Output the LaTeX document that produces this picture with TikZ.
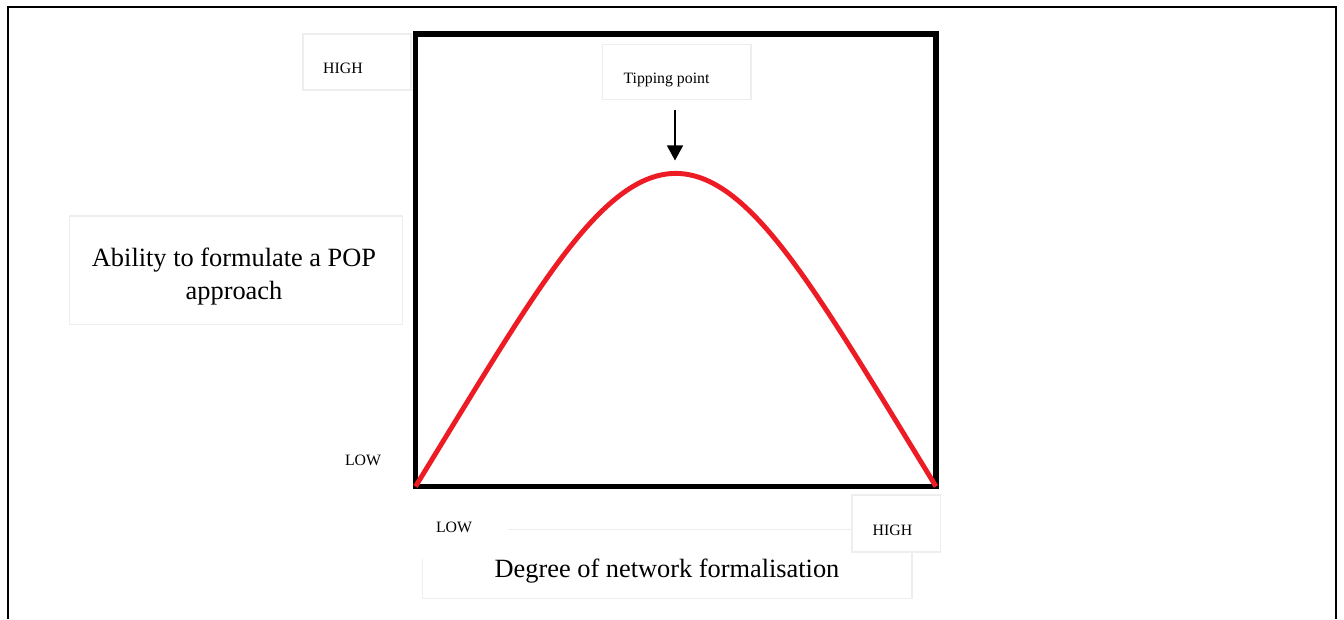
\documentclass[tikz,border=0pt]{standalone}
\usepackage{fontspec}
\setmainfont{Liberation Serif}
\usetikzlibrary{arrows.meta}
\definecolor{curvered}{RGB}{237,28,36}
\definecolor{boxline}{RGB}{238,238,238}
\tikzset{
  txtbox/.style={draw=boxline,fill=white,line width=0.6pt},
  smalllabel/.style={font=\fontsize{9}{11}\selectfont,inner sep=0pt},
  biglabel/.style={font=\fontsize{15}{19}\selectfont,inner sep=0pt,align=center},
  curve/.style={draw=curvered,line width=2.8pt,line join=round},
  pointer/.style={-{Triangle[width=0.32cm,length=0.3cm]},line width=0.7pt}
}

\begin{document}
\begin{tikzpicture}
        \useasboundingbox (0,0) rectangle (26.88,12.38);
        % outer frame, open at the bottom
        \draw[line width=1.1pt] (0.166,0) -- (0.166,12.24) -- (26.72,12.24) -- (26.72,0);

        % text boxes
        \draw[txtbox] (6.06,11.70) rectangle (8.22,10.58);
        \draw[txtbox] (12.05,11.49) rectangle (15.02,10.39);
        \draw[txtbox] (1.39,8.06) rectangle (8.05,5.89);
        \draw[txtbox] (8.45,1.79) rectangle (18.24,0.41);
        \fill[white] (8.24,2.44) rectangle (10.16,1.20);
        \draw[txtbox] (17.04,2.48) rectangle (18.81,1.34);

        % frame and curve
        \draw[line width=3.1pt] (8.31,2.65) rectangle (18.72,11.70);
        \draw[curve] plot[domain=0:180,samples=90,smooth]
          ({8.31+10.41*\x/180},{2.65+6.26*(0.967*sin(\x)-0.0333*sin(3*\x))});
        \coordinate (peak) at (13.5,8.91);

        % labels
        \node[smalllabel] (highy) at (6.86,11.02) {HIGH};
        \node[smalllabel] (lowy) at (7.26,3.18) {LOW};
        \node[smalllabel] (lowx) at (9.08,1.84) {LOW};
        \node[smalllabel] (highx) at (17.85,1.78) {HIGH};
        \node[smalllabel] (tipping) at (13.33,10.78) {Tipping point};
        \node[biglabel] (ability) at (4.68,6.85) {Ability to formulate a POP\\approach};
        \node[biglabel] (degree) at (13.34,0.96) {Degree of network formalisation};

        \draw[pointer,shorten <=0.45cm,shorten >=0.26cm] (tipping.south -| peak) -- (peak);
      \end{tikzpicture}
\end{document}
